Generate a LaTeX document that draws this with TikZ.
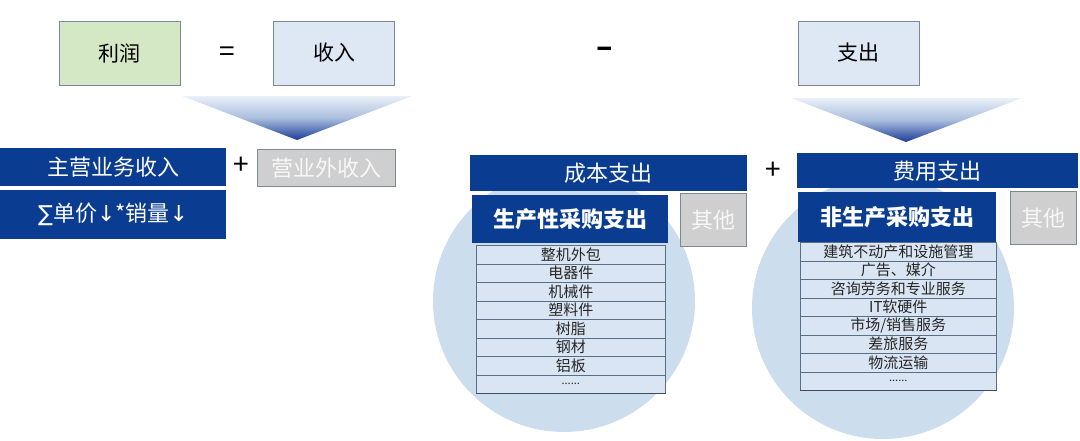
\documentclass[tikz,border=0pt]{standalone}
\usepackage{fontspec}
\setmainfont{Noto Sans CJK SC}
\newfontfamily\symf{DejaVu Sans}
\newcommand\fsz[1]{\fontsize{#1}{#1}\selectfont}
\newcommand\sixdots{{\fsz{11}......}}
\definecolor{dblue}{HTML}{0A3D91}
\definecolor{lblue}{HTML}{DEE8F5}
\definecolor{lgreen}{HTML}{D5E8C5}
\definecolor{bordc}{HTML}{7A8797}
\definecolor{circc}{HTML}{CCDDEE}
\definecolor{grayc}{HTML}{D0CFCF}
\definecolor{rowc}{HTML}{D9E5F2}
\definecolor{rowline}{HTML}{5A6E88}
\definecolor{triTop}{HTML}{EAF0F8}
\definecolor{triMid}{HTML}{A9BDDD}
\definecolor{triBot}{HTML}{1B3C98}
\begin{document}
\begin{tikzpicture}[x=1pt,y=-1pt,
  topbox/.style={draw=bordc, line width=0.9pt, minimum width=121pt, minimum height=64pt, inner sep=0pt, font=\fsz{21}},
  bluebar/.style={fill=dblue, text=white, inner sep=0pt, font=\fsz{22}},
  graybox/.style={fill=grayc, draw=bordc, line width=0.9pt, text=white!94!gray, inner sep=0pt, font=\fsz{22}},
  sym/.style={inner sep=0pt, font=\fsz{28}},
  row/.style={fill=rowc, draw=rowline, line width=0.6pt, inner sep=0pt, font=\fsz{15}, text=black!85, minimum height=18.5pt}
]
\useasboundingbox (0,0) rectangle (1080,440);
% circles
\fill[circc] (564,301) circle (131);
\fill[circc] (883,308) circle (131);
% top row
\node[topbox, fill=lgreen] (lirun) at (119.5,53) {利润};
\node[sym] (eq) at (227,54) {=};
\node[topbox, fill=lblue] (shouru) at (334,53) {收入};
\node[sym, font=\fsz{30}\bfseries] (minus) at (604.5,52) {–};
\node[topbox, fill=lblue] (zhichu) at (858.5,53) {支出};
% triangles
\shade[top color=triTop, bottom color=triBot, middle color=triMid] (182,96) -- (412,96) -- (297,140) -- cycle;
\shade[top color=triTop, bottom color=triBot, middle color=triMid] (791,98) -- (1022,98) -- (906,142) -- cycle;
% income
\node[bluebar, minimum width=226pt, minimum height=38pt, anchor=north west] (zyyw) at (0,148) {主营业务收入};
\node[bluebar, minimum width=226pt, minimum height=49pt, anchor=north west] (djxl) at (0,190) {{\symf ∑}单价{\symf ↓}*销量{\symf ↓}};
\node[sym] (plus1) at (241,166) {+};
\node[graybox, minimum width=138pt, minimum height=37pt, anchor=north west] (yyw) at (257,149) {营业外收入};
% cost
\node[bluebar, minimum width=277pt, minimum height=36pt, anchor=north west] (cbzc) at (470,155) {成本支出};
\node[bluebar, minimum width=196pt, minimum height=48pt, anchor=north west, font=\fsz{22}\bfseries] (scx) at (472,195) {生产性采购支出};
\node[graybox, minimum width=66pt, minimum height=53pt, anchor=north west] (qt1) at (680,193) {其他};
\foreach \t [count=\i] in {整机外包,电器件,机械件,塑料件,树脂,钢材,铝板,\sixdots} {
  \node[row, minimum width=189pt, anchor=north west] (a\i) at (476,{245+(\i-1)*18.5}) {\t};
}
\draw[line width=1.3pt, draw=rowline!70!black] (a8.south west) -- (a8.south east);
% expense
\node[sym] (plus2) at (773,171) {+};
\node[bluebar, minimum width=281pt, minimum height=35pt, anchor=north west] (fyzc) at (797,153) {费用支出};
\node[bluebar, minimum width=198pt, minimum height=50pt, anchor=north west, font=\fsz{22}\bfseries] (fsc) at (798,192) {非生产采购支出};
\node[graybox, minimum width=66pt, minimum height=53pt, anchor=north west] (qt2) at (1010,191) {其他};
\foreach \t [count=\i] in {建筑不动产和设施管理,{广告、媒介},咨询劳务和专业服务,IT软硬件,市场/销售服务,差旅服务,物流运输,\sixdots} {
  \node[row, minimum width=196pt, anchor=north west] (b\i) at (800,{242+(\i-1)*18.5}) {\t};
}
\draw[line width=1.3pt, draw=rowline!70!black] (b8.south west) -- (b8.south east);
\end{tikzpicture}
\end{document}
